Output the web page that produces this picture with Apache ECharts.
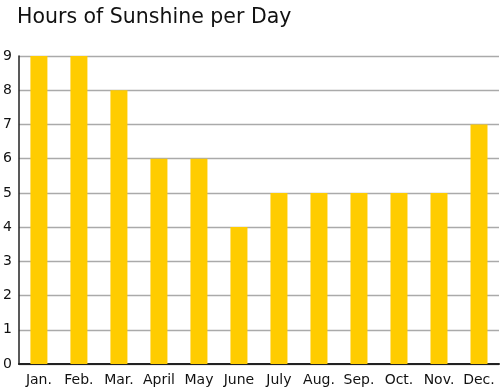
<!DOCTYPE html>
<html>
<head>
<meta charset="utf-8">
<script src="https://cdn.jsdelivr.net/npm/echarts@6/dist/echarts.min.js"></script>
<style>
html,body{margin:0;padding:0;background:#fff;}
#chart{width:500px;height:389px;}
</style>
</head>
<body>
<div id="chart"></div>
<script>
const titleText = "Hours of Sunshine per Day";
const categories = ["Jan.", "Feb.", "Mar.", "April", "May", "June", "July", "Aug.", "Sep.", "Oct.", "Nov.", "Dec."];
const sunshineHours = [9, 9, 8, 6, 6, 4, 5, 5, 5, 5, 5, 7];
const yTicks = [0, 1, 2, 3, 4, 5, 6, 7, 8, 9];

const chart = echarts.init(document.getElementById('chart'), null, {renderer: 'canvas'});
const font = 'DejaVu Sans, Verdana, sans-serif';
chart.setOption({
  animation: false,
  title: {
    text: titleText,
    left: 12, top: 2,
    textStyle: {fontFamily: font, fontSize: 20.5, fontWeight: 'normal', color: '#111'}
  },
  grid: {left: 17, right: 1, top: 56, bottom: 25, containLabel: false},
  xAxis: {
    type: 'category',
    data: categories,
    axisLine: {show: true, lineStyle: {color: '#222', width: 2}},
    axisTick: {show: false},
    axisLabel: {fontFamily: font, fontSize: 14, color: '#111', margin: 9, interval: 0}
  },
  yAxis: {
    type: 'value',
    min: yTicks[0], max: yTicks[yTicks.length - 1], interval: 1,
    axisLine: {show: true, lineStyle: {color: '#222', width: 1.5}},
    axisTick: {show: false},
    axisLabel: {fontFamily: font, fontSize: 14, color: '#111', margin: 7},
    splitLine: {show: true, lineStyle: {color: '#aaaaaa', width: 1.3}}
  },
  series: [{
    type: 'bar',
    data: sunshineHours,
    barWidth: 17,
    itemStyle: {color: '#FFCC00'}
  }]
});
</script>
</body>
</html>
